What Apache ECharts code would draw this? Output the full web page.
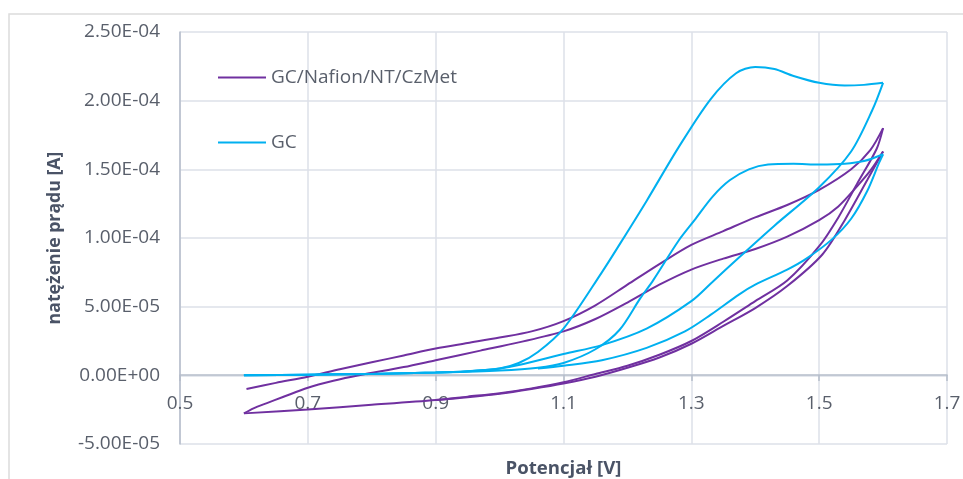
<!DOCTYPE html>
<html>
<head>
<meta charset="utf-8">
<script src="https://cdn.jsdelivr.net/npm/echarts@6/dist/echarts.min.js"></script>
<style>html,body{margin:0;padding:0;background:#fff}#c{width:963px;height:479px}</style>
</head>
<body>
<div id="c"></div>
<script>
// ---- data: [potential V, current A] ----
const seriesNames = ['GC/Nafion/NT/CzMet', 'GC'];
const xTicks = [0.5, 0.7, 0.9, 1.1, 1.3, 1.5, 1.7];
const yTicks = [-5e-5, 0, 5e-5, 1e-4, 1.5e-4, 2e-4, 2.5e-4];
const xTitle = 'Potencjał [V]';
const yTitle = 'natężenie prądu [A]';

const purpleFwd1 = [[0.604,-1.0e-5],[0.65,-5.5e-6],[0.70,-1.0e-6],[0.75,4.5e-6],[0.80,9.5e-6],[0.85,1.45e-5],[0.90,1.95e-5],[0.95,2.35e-5],[1.00,2.75e-5],[1.05,3.2e-5],[1.10,3.95e-5],[1.15,5.1e-5],[1.20,6.6e-5],[1.25,8.1e-5],[1.30,9.5e-5],[1.35,1.05e-4],[1.40,1.15e-4],[1.45,1.24e-4],[1.50,1.35e-4],[1.55,1.50e-4],[1.58,1.64e-4],[1.60,1.80e-4]];
const purpleRet1 = [[1.60,1.80e-4],[1.59,1.65e-4],[1.56,1.40e-4],[1.53,1.15e-4],[1.50,9.4e-5],[1.45,6.9e-5],[1.40,5.4e-5],[1.35,3.9e-5],[1.30,2.5e-5],[1.25,1.5e-5],[1.20,7.0e-6],[1.15,1.0e-6],[1.10,-5.0e-6],[1.05,-9.5e-6],[1.00,-1.3e-5],[0.95,-1.55e-5],[0.90,-1.8e-5],[0.80,-2.15e-5],[0.70,-2.48e-5],[0.60,-2.77e-5]];
const purpleFwd2 = [[0.60,-2.77e-5],[0.615,-2.4e-5],[0.636,-2.02e-5],[0.66,-1.6e-5],[0.70,-9.0e-6],[0.74,-4.0e-6],[0.78,0],[0.85,6.0e-6],[0.90,1.1e-5],[0.97,1.8e-5],[1.03,2.4e-5],[1.10,3.2e-5],[1.15,4.1e-5],[1.20,5.3e-5],[1.25,6.6e-5],[1.30,7.7e-5],[1.35,8.5e-5],[1.40,9.2e-5],[1.45,1.01e-4],[1.50,1.13e-4],[1.53,1.23e-4],[1.56,1.38e-4],[1.58,1.49e-4],[1.60,1.63e-4]];
const purpleRet2 = [[1.60,1.63e-4],[1.575,1.42e-4],[1.54,1.13e-4],[1.505,8.8e-5],[1.45,6.5e-5],[1.40,4.9e-5],[1.35,3.6e-5],[1.30,2.3e-5],[1.25,1.3e-5],[1.20,5.5e-6],[1.15,-1.0e-6],[1.10,-6.0e-6],[1.05,-1.0e-5],[1.00,-1.35e-5],[0.95,-1.6e-5],[0.90,-1.8e-5]];

const blueFwd1 = [[0.60,0],[0.70,5e-7],[0.80,1.0e-6],[0.90,2.0e-6],[0.95,3.0e-6],[1.00,5.0e-6],[1.03,9.0e-6],[1.06,1.7e-5],[1.10,3.4e-5],[1.16,7.5e-5],[1.19,9.7e-5],[1.23,1.27e-4],[1.28,1.66e-4],[1.33,2.01e-4],[1.37,2.20e-4],[1.40,2.245e-4],[1.43,2.23e-4],[1.46,2.18e-4],[1.50,2.13e-4],[1.54,2.11e-4],[1.57,2.115e-4],[1.60,2.13e-4]];
const blueRet1 = [[1.60,2.13e-4],[1.583,1.93e-4],[1.55,1.63e-4],[1.50,1.37e-4],[1.43,1.09e-4],[1.375,8.6e-5],[1.333,6.8e-5],[1.30,5.4e-5],[1.23,3.4e-5],[1.16,2.2e-5],[1.10,1.55e-5],[1.03,7.5e-6],[1.00,5.0e-6],[0.95,3.0e-6],[0.90,2.0e-6],[0.80,1.0e-6],[0.70,5e-7],[0.60,0]];
const blueFwd2 = [[0.60,0],[0.70,5e-7],[0.80,1.0e-6],[0.90,2.0e-6],[1.00,3.5e-6],[1.06,5.5e-6],[1.10,9.0e-6],[1.15,1.9e-5],[1.1875,3.3e-5],[1.22,5.6e-5],[1.24,6.9e-5],[1.28,9.8e-5],[1.305,1.13e-4],[1.333,1.30e-4],[1.36,1.42e-4],[1.39,1.50e-4],[1.42,1.535e-4],[1.46,1.54e-4],[1.50,1.535e-4],[1.54,1.54e-4],[1.57,1.56e-4],[1.60,1.61e-4]];
const blueRet2 = [[1.60,1.61e-4],[1.594,1.55e-4],[1.575,1.34e-4],[1.55,1.14e-4],[1.52,9.9e-5],[1.48,8.5e-5],[1.45,7.7e-5],[1.40,6.6e-5],[1.375,5.9e-5],[1.33,4.4e-5],[1.29,3.2e-5],[1.23,2.0e-5],[1.16,1.1e-5],[1.10,7.0e-6],[1.06,5.0e-6]];

const purple = '#7030a0';
const blue = '#00b0f0';
const font = 'Open Sans';
const labelColor = '#595f6b';
const titleColor = '#4a5366';
const axisColor = '#b5bdca';
const gridColor = '#dde1e8';

function fmtY(v) {
  if (Math.abs(v) < 1e-12) return '0.00E+00';
  const s = v.toExponential(2);
  const parts = s.split('e');
  const sign = parts[1][0] === '-' ? '-' : '+';
  let d = parts[1].replace(/[+-]/, '');
  if (d.length < 2) d = '0' + d;
  return parts[0] + 'E' + sign + d;
}
function fmtX(v) { return String(Math.round(v * 10) / 10); }
function fitSize(text, target) {
  const ctx = document.createElement('canvas').getContext('2d');
  ctx.font = 'bold 100px "' + font + '"';
  return Math.round(100 * target / ctx.measureText(text).width * 10) / 10;
}
const yTitleSize = fitSize(yTitle, 173);
const xTitleSize = fitSize(xTitle, 116);

function seg(name, color, data) {
  return {
    name: name, type: 'line', data: data, symbol: 'none',
    smooth: 0.3, xAxisIndex: 0, yAxisIndex: 0,
    lineStyle: { color: color, width: 2 }, itemStyle: { color: color },
    emphasis: { disabled: true }
  };
}

const chart = echarts.init(document.getElementById('c'), null, { renderer: 'canvas' });
chart.setOption({
  animation: false,
  backgroundColor: '#ffffff',
  graphic: [{
    type: 'rect', silent: true, z: -10,
    shape: { x: 9, y: 14, width: 1000, height: 1000 },
    style: { fill: 'none', stroke: '#dcdcdc', lineWidth: 1.5 }
  }],
  grid: [
    { left: 180, right: 16, top: 32, bottom: 35, containLabel: false, outerBoundsMode: 'none' },
    // upper part of the plot, whose lower edge is the zero line (x axis crossing)
    { left: 180, right: 16, top: 32, bottom: 104, containLabel: false, outerBoundsMode: 'none' }
  ],
  legend: {
    data: seriesNames, orient: 'vertical', left: 217, top: 68, padding: 0,
    itemWidth: 48, itemHeight: 14, itemGap: 46,
    itemStyle: { opacity: 0 },
    textStyle: { fontFamily: font, fontSize: 19, color: labelColor }
  },
  xAxis: [{
    gridIndex: 0, type: 'value', min: xTicks[0], max: xTicks[xTicks.length - 1], interval: 0.2,
    axisLine: { show: false }, axisTick: { show: false }, axisLabel: { show: false },
    splitLine: { show: true, lineStyle: { color: gridColor, width: 1.5 } }
  }, {
    gridIndex: 1, type: 'value', min: xTicks[0], max: xTicks[xTicks.length - 1], interval: 0.2,
    position: 'bottom',
    name: xTitle, nameLocation: 'middle', nameGap: 84,
    nameTextStyle: { fontFamily: font, fontSize: xTitleSize, fontWeight: 'bold', color: titleColor },
    axisLine: { show: true, onZero: false, lineStyle: { color: axisColor, width: 1.5 } },
    axisTick: { show: true, length: 6, lineStyle: { color: axisColor, width: 1.5 } },
    axisLabel: { formatter: fmtX, margin: 19, fontFamily: font, fontSize: 19, color: labelColor },
    splitLine: { show: false }
  }],
  yAxis: [{
    gridIndex: 0, type: 'value', min: yTicks[0], max: yTicks[yTicks.length - 1], interval: 5e-5,
    name: yTitle, nameLocation: 'middle', nameGap: 116,
    nameTextStyle: { fontFamily: font, fontSize: yTitleSize, fontWeight: 'bold', color: titleColor },
    axisLine: { show: true, lineStyle: { color: axisColor, width: 1.5 } },
    axisTick: { show: false },
    axisLabel: { formatter: fmtY, margin: 20, fontFamily: font, fontSize: 19, color: labelColor },
    splitLine: { show: true, lineStyle: { color: gridColor, width: 1.5 } }
  }, {
    gridIndex: 1, type: 'value', min: 0, max: yTicks[yTicks.length - 1], show: false
  }],
  series: [
    seg(seriesNames[0], purple, purpleFwd1),
    seg(seriesNames[0], purple, purpleRet1),
    seg(seriesNames[0], purple, purpleFwd2),
    seg(seriesNames[0], purple, purpleRet2),
    seg(seriesNames[1], blue, blueFwd1),
    seg(seriesNames[1], blue, blueRet1),
    seg(seriesNames[1], blue, blueFwd2),
    seg(seriesNames[1], blue, blueRet2)
  ]
});
</script>
</body>
</html>
